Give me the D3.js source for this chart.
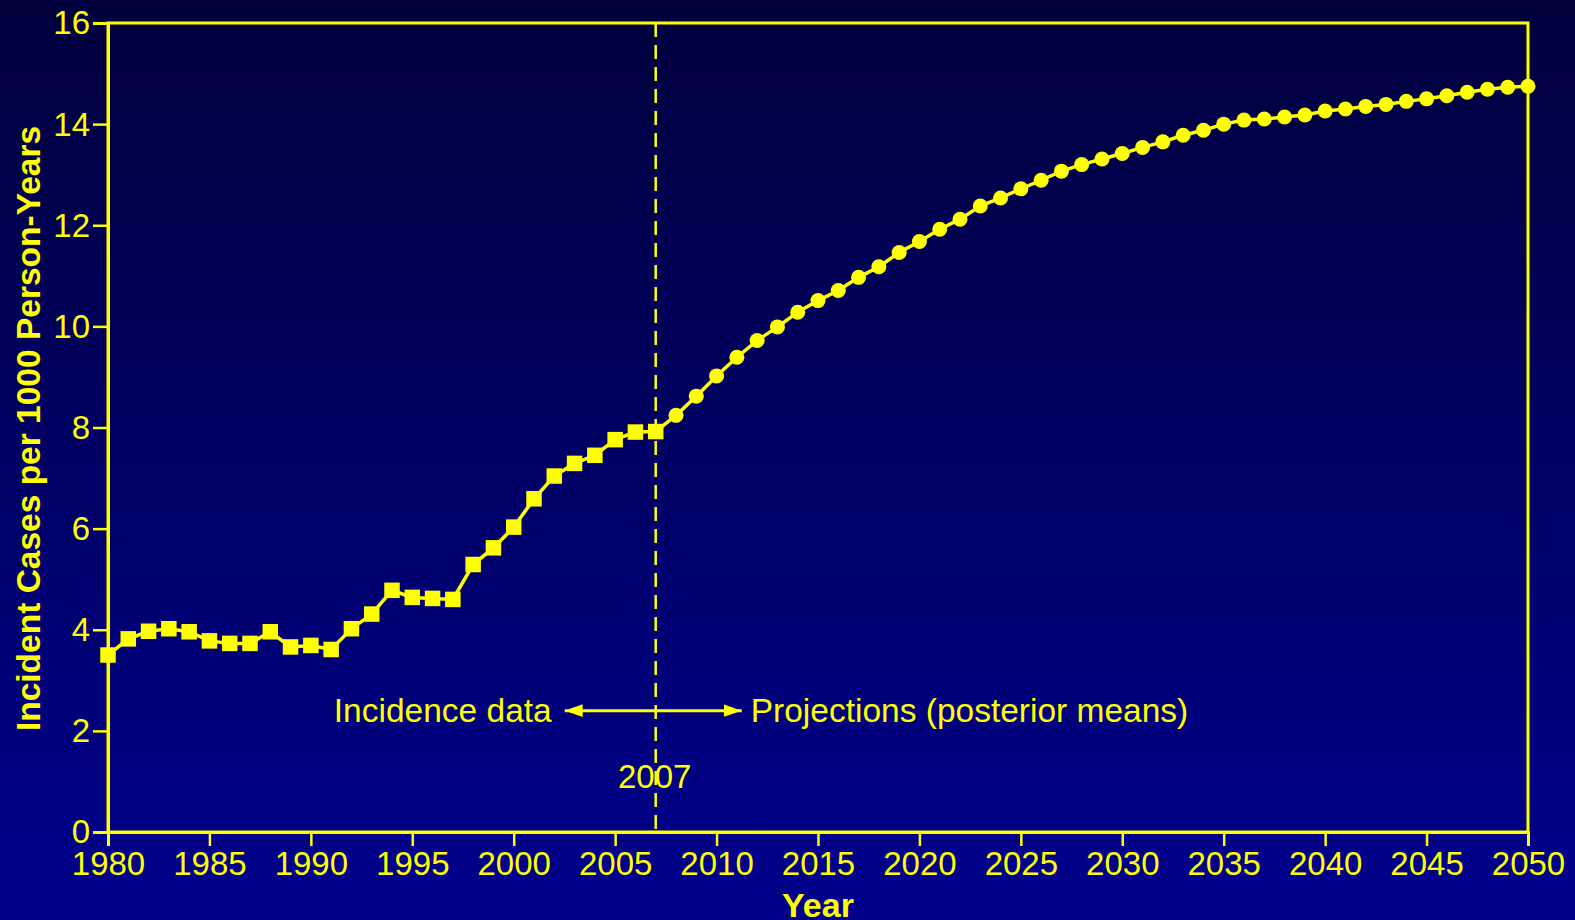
<!DOCTYPE html>
<html>
<head>
<meta charset="utf-8">
<script src="https://cdn.jsdelivr.net/npm/d3@7"></script>
<style>
  html, body { margin: 0; padding: 0; background: #000060; }
  svg { display: block; font-family: 'Liberation Sans', Arial, sans-serif; }
</style>
</head>
<body>
<div id="chart"></div>
<script>
// Observed incidence (squares), 1980-2007
let dataYears = d3.range(1980, 2008);
let dataValues = [3.50, 3.82, 3.97, 4.02, 3.96, 3.78, 3.73, 3.73, 3.96, 3.66,
  3.69, 3.61, 4.02, 4.31, 4.78, 4.64, 4.62, 4.60, 5.29, 5.62,
  6.03, 6.59, 7.04, 7.29, 7.45, 7.76, 7.91, 7.92];

// Projections (circles), 2008-2050
let projYears = d3.range(2008, 2051);
let projValues = [8.24, 8.62, 9.02, 9.39, 9.72, 9.99, 10.28, 10.51, 10.71, 10.97,
  11.18, 11.46, 11.68, 11.92, 12.12, 12.38, 12.54, 12.72, 12.89, 13.07,
  13.20, 13.31, 13.42, 13.54, 13.65, 13.78, 13.88, 14.00, 14.08, 14.10,
  14.14, 14.18, 14.26, 14.30, 14.35, 14.39, 14.45, 14.50, 14.56, 14.63,
  14.69, 14.73, 14.75];

let xTicks = d3.range(1980, 2051, 5);
let yTicks = d3.range(0, 17, 2);
let splitYear = 2007;

let width = 1575;
let height = 920;
let yellow = '#ffff00';
let fontSize = '33px';

let margin = {top: 23, right: 47, bottom: 88, left: 108};

let svg = d3.select('#chart')
  .append('svg')
  .attr('width', width)
  .attr('height', height);

// Background gradient, dark navy at the top to blue at the bottom
let defs = svg.append('defs');
let grad = defs.append('linearGradient')
  .attr('id', 'bg')
  .attr('x1', 0).attr('y1', 0)
  .attr('x2', 0).attr('y2', 1);
grad.append('stop').attr('offset', '0%').attr('stop-color', '#00003c');
grad.append('stop').attr('offset', '100%').attr('stop-color', '#00008e');

svg.append('rect')
  .attr('width', width)
  .attr('height', height)
  .attr('fill', 'url(#bg)');

let x = d3.scaleLinear()
  .domain([1980, 2050])
  .range([margin.left, width - margin.right]);

let y = d3.scaleLinear()
  .domain([0, 16])
  .range([height - margin.bottom, margin.top]);

// Frame (top and right edges)
svg.append('rect')
  .attr('x', x(1980))
  .attr('y', y(16))
  .attr('width', x(2050) - x(1980))
  .attr('height', y(0) - y(16))
  .attr('fill', 'none')
  .attr('stroke', yellow)
  .attr('stroke-width', 3);

// Axes
let xAxis = svg.append('g')
  .attr('transform', `translate(0,${y(0)})`)
  .call(d3.axisBottom(x).tickValues(xTicks).tickFormat(d3.format('d')).tickSize(14).tickPadding(6));

let yAxis = svg.append('g')
  .attr('transform', `translate(${x(1980)},0)`)
  .call(d3.axisLeft(y).tickValues(yTicks).tickSize(15).tickPadding(3));

[xAxis, yAxis].forEach(function(ax) {
  ax.select('.domain').attr('stroke', yellow).attr('stroke-width', 3);
  ax.selectAll('.tick line').attr('stroke', yellow).attr('stroke-width', 2.5);
  ax.selectAll('.tick text')
    .attr('fill', yellow)
    .style('font-size', fontSize)
    .style('font-family', "'Liberation Sans', Arial, sans-serif");
});
yAxis.selectAll('.tick text').attr('dy', '0.33em');

// Axis titles
svg.append('text')
  .attr('x', (x(1980) + x(2050)) / 2)
  .attr('y', 917)
  .attr('text-anchor', 'middle')
  .attr('fill', yellow)
  .style('font-size', '34px')
  .style('font-weight', 'bold')
  .text('Year');

svg.append('text')
  .attr('transform', `translate(40,${(y(0) + y(16)) / 2 + 1}) rotate(-90)`)
  .attr('text-anchor', 'middle')
  .attr('fill', yellow)
  .style('font-size', '33.5px')
  .style('font-weight', 'bold')
  .text('Incident Cases per 1000 Person-Years');

// Annotation: arrows either side of the split year
let arrowY = y(2.4);
defs.append('marker')
  .attr('id', 'head')
  .attr('viewBox', '0 0 10 10')
  .attr('refX', 10).attr('refY', 5)
  .attr('markerWidth', 6).attr('markerHeight', 4.2)
  .attr('markerUnits', 'strokeWidth')
  .attr('preserveAspectRatio', 'none')
  .attr('orient', 'auto-start-reverse')
  .append('path')
  .attr('d', 'M0,0L10,5L0,10Z')
  .attr('fill', yellow);

svg.append('line')
  .attr('x1', x(splitYear) - 91)
  .attr('x2', x(splitYear) + 86)
  .attr('y1', arrowY).attr('y2', arrowY)
  .attr('stroke', yellow)
  .attr('stroke-width', 3)
  .attr('marker-start', 'url(#head)')
  .attr('marker-end', 'url(#head)');

svg.append('text')
  .attr('x', x(splitYear) - 104)
  .attr('y', arrowY + 11)
  .attr('text-anchor', 'end')
  .attr('fill', yellow)
  .style('font-size', '33.5px')
  .text('Incidence data');

svg.append('text')
  .attr('x', x(splitYear) + 95)
  .attr('y', arrowY + 11)
  .attr('fill', yellow)
  .style('font-size', '33.5px')
  .text('Projections (posterior means)');

svg.append('text')
  .attr('x', x(splitYear) - 1)
  .attr('y', y(0.87))
  .attr('text-anchor', 'middle')
  .attr('fill', yellow)
  .style('font-size', fontSize)
  .text('2007');

// Dashed divider at the split year
svg.append('line')
  .attr('x1', x(splitYear)).attr('x2', x(splitYear))
  .attr('y1', y(16)).attr('y2', y(0))
  .attr('stroke', yellow)
  .attr('stroke-width', 2.5)
  .attr('stroke-dasharray', '14,8');

// Series line through all points
let allYears = dataYears.concat(projYears);
let allValues = dataValues.concat(projValues);
let line = d3.line()
  .x(function(d, i) { return x(allYears[i]); })
  .y(function(d) { return y(d); });

svg.append('path')
  .datum(allValues)
  .attr('d', line)
  .attr('fill', 'none')
  .attr('stroke', yellow)
  .attr('stroke-width', 3.5);

// Square markers for observed data
let sq = 15.5;
svg.append('g')
  .selectAll('rect')
  .data(dataValues)
  .join('rect')
  .attr('x', function(d, i) { return x(dataYears[i]) - sq / 2; })
  .attr('y', function(d) { return y(d) - sq / 2; })
  .attr('width', sq)
  .attr('height', sq)
  .attr('fill', yellow);

// Circle markers for projections
svg.append('g')
  .selectAll('circle')
  .data(projValues)
  .join('circle')
  .attr('cx', function(d, i) { return x(projYears[i]); })
  .attr('cy', function(d) { return y(d); })
  .attr('r', 7.5)
  .attr('fill', yellow);
</script>
</body>
</html>
